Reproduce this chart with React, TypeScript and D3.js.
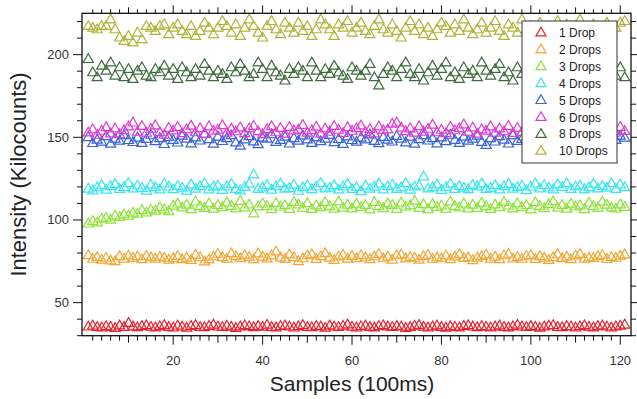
import React from "react";
import * as d3 from "d3";

const W = 637;
const H = 399;

const seriesNames = ["1 Drop", "2 Drops", "3 Drops", "4 Drops", "5 Drops", "6 Drops", "8 Drops", "10 Drops"];
const seriesColors = ["#e8232d", "#f2a734", "#8fe23a", "#37e6ee", "#3a63dc", "#e03ad2", "#3d6b3d", "#b2b23a"];

const xTickLabels = [20, 40, 60, 80, 100, 120];
const yTickLabels = [50, 100, 150, 200];

const drop1 = [
  35.2,35.8,35.0,34.6,35.4,35.1,34.3,35.9,35.0,37.4,
  35.3,34.8,35.6,36.0,35.1,34.7,35.4,36.2,35.0,34.6,
  35.8,35.2,34.5,35.6,36.1,35.0,34.8,35.5,36.4,35.2,
  34.9,35.7,35.1,34.4,35.3,36.0,35.4,34.8,35.6,35.1,
  36.3,35.0,34.7,35.5,35.9,35.2,34.6,35.4,36.1,35.0,
  34.8,35.6,35.3,34.5,35.9,35.2,34.9,35.7,36.5,35.1,
  34.6,35.4,35.8,35.0,34.7,35.5,36.0,35.3,34.9,35.6,
  35.2,34.4,35.0,35.7,36.2,35.1,34.6,35.3,35.9,35.0,
  34.5,35.4,35.1,34.7,35.6,36.0,35.2,34.8,35.5,35.1,
  34.6,35.3,35.9,35.0,34.7,35.4,36.3,35.2,34.9,35.6,
  35.1,34.5,35.3,35.8,36.1,35.0,34.8,35.5,35.2,34.6,
  35.4,36.0,35.1,34.7,35.5,35.9,35.2,34.6,35.3,35.7,
  36.4
];

const drop2 = [
  78.4,76.2,77.2,75.6,76.8,75.2,74.8,77.8,76.3,78.2,
  76.9,77.6,75.9,78.0,77.0,76.2,77.5,76.8,75.6,76.6,
  77.9,76.0,76.9,75.5,78.7,77.1,74.6,75.8,77.6,79.2,
  77.2,76.3,79.6,77.8,76.6,78.5,77.3,76.0,79.4,77.5,
  76.4,78.2,80.6,77.0,76.1,78.8,77.2,74.8,76.5,78.3,
  79.0,76.1,77.8,79.6,76.9,75.5,77.6,78.6,76.3,77.9,
  76.6,78.4,77.1,75.9,77.7,79.1,76.5,77.5,75.7,78.3,
  78.8,76.4,77.3,76.8,75.6,77.9,78.6,76.2,77.0,76.5,
  78.2,76.0,77.6,79.0,76.7,77.1,75.4,76.9,77.9,78.7,
  76.3,77.5,75.9,78.3,79.2,76.4,77.3,76.2,78.0,78.5,
  76.1,77.8,76.9,75.5,77.2,78.9,76.6,77.5,76.0,78.2,
  79.1,76.3,77.0,76.7,77.9,78.6,76.2,77.3,76.8,78.1,
  78.8
];

const drop3 = [
  97.5,99.0,98.2,100.4,101.0,99.8,102.3,101.5,103.0,102.2,
  104.1,103.4,105.6,104.2,106.0,105.3,107.4,106.1,105.0,108.3,
  109.6,107.2,108.9,106.2,110.8,108.0,106.9,109.8,106.5,108.7,
  107.4,110.3,108.2,106.6,111.2,107.2,109.1,103.6,107.9,109.6,
  108.1,106.2,110.0,107.8,108.6,106.4,110.6,109.1,107.0,109.9,
  106.3,108.5,107.4,110.4,108.0,106.5,110.9,107.1,108.9,106.6,
  109.5,107.6,108.7,106.1,110.5,108.2,106.8,109.7,108.8,106.4,
  110.2,107.8,108.5,111.3,106.9,109.2,106.2,109.4,107.5,108.4,
  106.5,110.8,108.1,107.2,109.6,106.6,108.9,107.0,110.1,108.0,
  106.3,109.1,107.4,110.6,108.4,106.6,109.8,107.6,108.7,106.1,
  110.4,108.2,106.8,109.2,111.0,107.1,108.8,106.5,109.5,107.8,
  108.5,106.2,110.2,108.1,107.0,110.7,108.9,107.2,106.6,109.1,
  107.6
];

const drop4 = [
  118.6,117.6,119.5,120.8,118.0,120.1,121.5,118.5,119.7,122.0,
  118.7,120.5,119.1,117.4,121.0,119.5,118.1,121.7,119.9,118.3,
  120.3,119.2,117.2,121.2,118.6,120.1,121.9,118.2,119.8,120.6,
  117.9,120.0,121.4,118.4,117.5,119.7,121.6,127.2,118.5,119.4,
  120.9,118.0,120.1,121.8,118.6,119.1,121.0,117.3,119.5,120.5,
  118.3,119.9,122.0,118.7,119.2,120.7,118.1,120.0,121.5,118.4,
  119.6,117.1,120.4,118.6,119.8,121.7,118.2,120.1,121.1,118.5,
  119.4,121.9,118.0,119.9,120.6,126.0,118.7,119.5,121.2,117.9,
  119.7,121.6,118.5,120.3,119.2,118.3,120.9,120.0,121.8,118.4,
  119.1,120.7,118.1,120.1,121.5,118.6,119.6,120.5,117.7,119.9,
  121.7,118.7,120.8,119.3,118.2,121.3,119.7,121.9,118.5,120.0,
  120.6,118.3,119.5,121.6,118.7,120.3,119.2,122.0,118.4,121.1,
  119.5
];

const drop5 = [
  149.8,146.2,148.2,147.0,150.4,145.8,148.9,147.6,150.9,148.0,
  146.8,149.5,146.3,148.7,151.2,147.3,149.2,145.6,149.9,148.1,
  146.5,150.6,148.8,146.0,149.6,147.7,151.8,148.5,145.8,150.1,
  147.4,149.1,150.9,146.6,144.6,148.4,150.3,147.2,145.5,149.4,
  148.8,151.5,146.9,148.1,150.0,145.9,149.2,147.6,150.8,148.4,
  146.3,149.7,147.3,148.9,151.1,146.7,148.6,145.7,150.2,148.0,
  147.0,149.5,148.4,151.4,147.5,146.1,149.9,148.2,147.1,150.5,
  148.9,146.6,150.1,145.8,148.5,150.9,147.7,149.1,146.0,149.6,
  147.3,151.2,148.1,146.3,150.0,147.6,148.8,150.7,146.9,145.1,
  149.2,147.1,150.3,148.2,145.9,151.0,147.5,148.6,149.7,146.5,
  149.0,150.8,147.2,149.4,146.1,148.5,151.3,147.7,148.3,145.6,
  150.1,147.6,149.2,151.1,146.8,148.8,149.8,146.0,148.1,150.6,
  149.5
];

const drop6 = [
  152.6,154.5,151.2,153.6,155.8,152.0,155.0,151.5,154.0,156.2,
  158.6,153.0,156.5,152.4,154.8,156.9,152.8,151.3,155.4,153.8,
  156.0,152.2,154.5,156.7,152.7,155.2,151.8,156.3,153.6,154.2,
  157.0,152.5,154.9,153.3,155.6,152.2,155.1,156.6,153.4,151.6,
  154.6,156.4,152.7,155.3,151.9,155.9,153.8,154.3,157.2,152.5,
  154.0,156.1,151.9,155.0,153.0,156.5,154.2,152.3,155.8,153.6,
  155.2,156.8,152.8,154.7,152.0,156.2,153.9,154.4,157.9,158.6,
  155.5,153.4,155.1,152.5,156.4,153.1,154.8,157.3,152.7,154.2,
  152.2,156.0,153.9,155.2,157.5,153.0,155.6,151.9,154.5,153.7,
  156.3,152.4,155.0,153.3,156.6,152.3,155.4,152.9,155.9,154.1,
  152.0,156.5,153.6,154.7,152.5,155.8,153.8,156.9,152.7,155.1,
  152.2,156.1,153.2,154.3,151.7,155.6,153.7,155.2,152.5,156.0,
  153.5
];

const drop8 = [
  197,189,186,193,190,195,187,192,186,191,
  185,190,192,187,186,191,189,193,187,191,
  185,192,189,186,191,187,194,190,186,190,
  188,185,192,189,194,190,186,188,195,191,
  186,193,189,187,184,191,188,192,190,186,
  195,190,186,191,188,193,189,187,185,192,
  190,187,190,194,186,181,188,192,190,186,
  191,195,188,186,191,184,189,193,187,191,
  195,186,189,185,192,188,190,186,195,190,
  187,191,194,186,189,184,192,188,191,196,
  186,190,193,187,185,191,189,194,186,190,
  188,192,190,185,191,188,195,189,187,192,
  186
];

const drop10 = [
  217,216,215,217,217,221,215,210,208,211,
  207,213,209,217,216,214,217,218,212,216,
  218,214,212,217,211,214,219,216,212,216,
  220,217,213,218,211,216,221,217,213,210,
  217,220,215,212,219,216,213,219,214,217,
  211,215,221,218,215,211,218,216,220,213,
  216,219,214,212,217,221,215,213,218,214,
  210,216,220,214,218,212,216,211,215,219,
  217,213,218,214,221,216,212,215,219,213,
  216,220,214,211,218,216,213,221,215,217,
  213,219,214,210,216,220,214,218,212,217,
  221,215,212,218,216,213,219,214,216,219,
  220
];

const seriesValues = [drop1, drop2, drop3, drop4, drop5, drop6, drop8, drop10];

export default function App() {
  const left = 82, right = 631, top = 13.3, bottom = 335.7;
  const x = d3.scaleLinear().domain([-0.4, 122.4]).range([left, right]);
  const y = d3.scaleLinear().domain([30, 225]).range([bottom, top]);
  const tri = d3.symbol().type(d3.symbolTriangle).size(44)();

  const xMinor = d3.range(2, 122, 2);
  const yMinor = d3.range(30, 226, 10);

  const xTickLen = (v: number) => (v % 20 === 0 ? 9 : v % 10 === 0 ? 7 : 5);
  const yTickLen = (v: number) => (v % 50 === 0 ? 9 : 5);

  return (
    <svg width={W} height={H} style={{ position: "absolute", left: 0, top: 0, background: "#fff" }}
      fontFamily="'Liberation Sans', Arial, sans-serif">
      <rect x={0} y={0} width={W} height={H} fill="#fff" />
      {seriesValues.map((vals, si) => (
        <g key={si} stroke={seriesColors[si]} fill="none" strokeWidth={1.2}>
          {vals.map((v, i) => (
            <path key={i} d={tri as string} transform={`translate(${x(i + 1)},${y(v)})`} />
          ))}
        </g>
      ))}
      <rect x={left} y={top} width={right - left} height={bottom - top} fill="none" stroke="#111" strokeWidth={1.3} />
      <g stroke="#111" strokeWidth={1}>
        {xMinor.map((v) => (
          <g key={v}>
            <line x1={x(v)} x2={x(v)} y1={bottom} y2={bottom + xTickLen(v)} />
            <line x1={x(v)} x2={x(v)} y1={top} y2={top - xTickLen(v) + 1} />
          </g>
        ))}
        {yMinor.map((v) => (
          <g key={v}>
            <line x1={left} x2={left - yTickLen(v)} y1={y(v)} y2={y(v)} />
            <line x1={right} x2={right + yTickLen(v)} y1={y(v)} y2={y(v)} />
          </g>
        ))}
      </g>
      <g fontSize={13} fill="#333">
        {xTickLabels.map((v) => (
          <text key={v} x={x(v)} y={365} textAnchor="middle">{v}</text>
        ))}
        {yTickLabels.map((v) => (
          <text key={v} x={69} y={y(v)} textAnchor="end" dominantBaseline="central">{v}</text>
        ))}
      </g>
      <text x={x(60)} y={391} textAnchor="middle" fontSize={21} fill="#222">Samples (100ms)</text>
      <text transform={`translate(26,${(top + bottom) / 2}) rotate(-90)`} textAnchor="middle" fontSize={22} fill="#222">
        Intensity (Kilocounts)
      </text>
      <g>
        <rect x={522} y={21} width={95} height={142} fill="#fff" stroke="#333" strokeWidth={1} />
        {seriesNames.map((name, i) => (
          <g key={name} transform={`translate(0,${33 + i * 16.9})`}>
            <path d={tri as string} transform="translate(541,0)" fill="none" stroke={seriesColors[i]} strokeWidth={1.2} />
            <text x={559} y={0} fontSize={12} fill="#222" dominantBaseline="central">{name}</text>
          </g>
        ))}
      </g>
    </svg>
  );
}
